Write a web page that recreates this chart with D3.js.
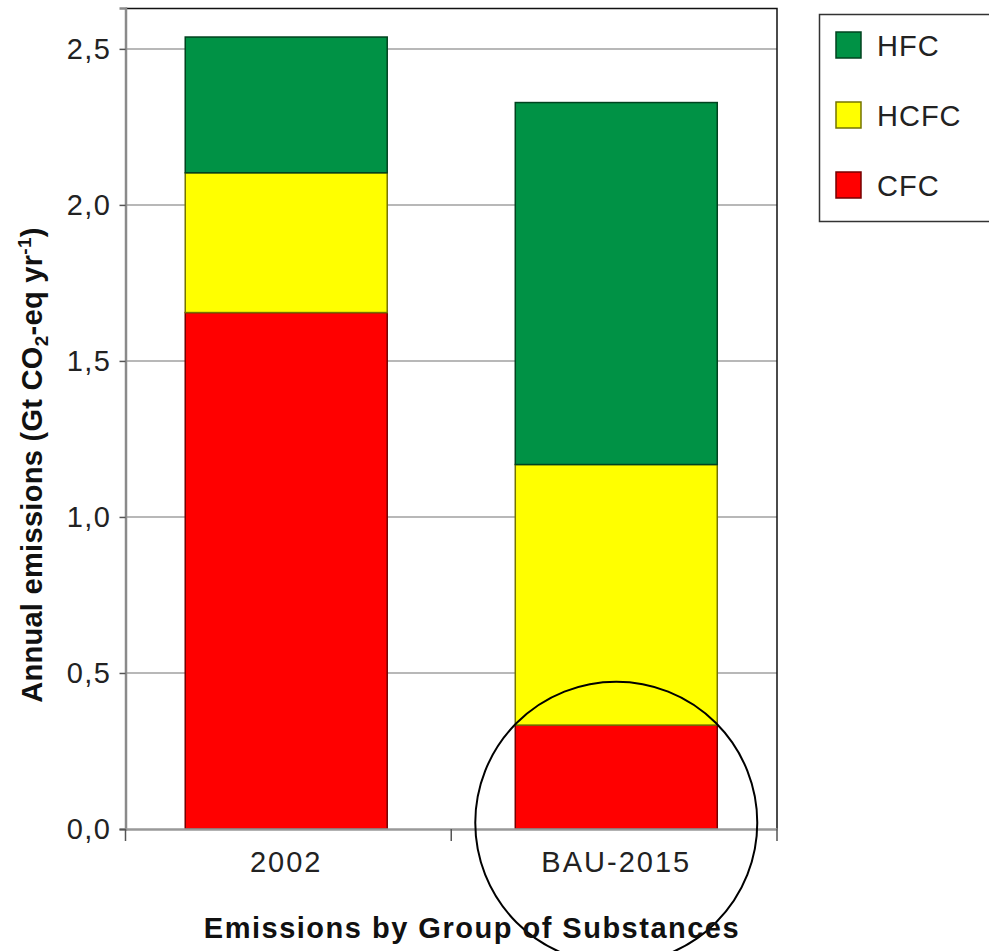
<!DOCTYPE html>
<html>
<head>
<meta charset="utf-8">
<script src="https://cdn.jsdelivr.net/npm/d3@7"></script>
<style>
  body { margin: 0; background: #fff; }
  svg { display: block; font-family: "Liberation Sans", Arial, sans-serif; }
</style>
</head>
<body>
<svg id="chart" width="989" height="951"></svg>
<script>
// data
const categories = ["2002", "BAU-2015"];
const groups = ["CFC", "HCFC", "HFC"];            // stacking order, bottom to top
const cfc  = [1.655, 0.333];
const hcfc = [0.448, 0.835];
const hfc  = [0.435, 1.160];
const yTicks = [0, 0.5, 1.0, 1.5, 2.0, 2.5];
const colors = {CFC: "#ff0000", HCFC: "#ffff00", HFC: "#009245"};
const legendOrder = ["HFC", "HCFC", "CFC"];

const svg = d3.select("#chart");
const margin = {top: 8, right: 212, bottom: 122, left: 125.5},
    width = 989 - margin.left - margin.right,
    height = 951 - margin.top - margin.bottom;

const rows = categories.map(function(c, i) {
  return {cat: c, CFC: cfc[i], HCFC: hcfc[i], HFC: hfc[i]};
});
const series = d3.stack().keys(groups)(rows);

const x = d3.scaleBand()
    .domain(categories)
    .range([0, width])
    .paddingInner(0.388)
    .paddingOuter(0.181);

const y = d3.scaleLinear()
    .domain([0, 2.631])
    .range([height, 0]);

const fmt = function(d) { return d3.format(".1f")(d).replace(".", ","); };

const g = svg.append("g").attr("transform", "translate(" + margin.left + "," + margin.top + ")");

// gridlines
g.append("g").selectAll("line").data(yTicks.filter(function(d) { return d > 0; }))
  .enter().append("line")
    .attr("x1", 0).attr("x2", width)
    .attr("y1", function(d) { return y(d); }).attr("y2", function(d) { return y(d); })
    .attr("stroke", "#a0a0a0").attr("stroke-width", 1.5);

// plot border (top & right)
g.append("path")
    .attr("d", "M0,0.5H" + width + "V" + height)
    .attr("fill", "none").attr("stroke", "#111").attr("stroke-width", 1.5);

// bars
g.append("g").selectAll("g").data(series).enter().append("g")
    .attr("fill", function(s) { return colors[s.key]; })
    .attr("stroke", function(s) { return d3.color(colors[s.key]).darker(2.2); })
    .attr("stroke-width", 1.5)
  .selectAll("rect").data(function(s) { return s; }).enter().append("rect")
    .attr("x", function(d) { return x(d.data.cat); })
    .attr("width", x.bandwidth())
    .attr("y", function(d) { return y(d[1]); })
    .attr("height", function(d) { return y(d[0]) - y(d[1]); });

// y axis
const yAxis = g.append("g")
    .call(d3.axisLeft(y).tickValues(yTicks).tickFormat(fmt).tickSize(6).tickPadding(8));
yAxis.select(".domain").attr("stroke", "#8a8a8a").attr("stroke-width", 2.5);
yAxis.selectAll(".tick line").attr("stroke", "#555").attr("stroke-width", 1.5);
yAxis.selectAll(".tick text").attr("font-size", 29).attr("fill", "#222")
    .attr("letter-spacing", 1.5)
    .attr("font-family", "Liberation Sans, Arial, sans-serif");

// x axis
const xAxis = g.append("g").attr("transform", "translate(0," + height + ")")
    .call(d3.axisBottom(x).tickSize(0).tickPadding(22));
xAxis.select(".domain").attr("stroke", "#999").attr("stroke-width", 2.5);
xAxis.selectAll(".tick text").attr("font-size", 29).attr("fill", "#222")
    .attr("letter-spacing", 2)
    .attr("font-family", "Liberation Sans, Arial, sans-serif");
const boundaries = [0, width / 2, width];
xAxis.append("g").selectAll("line").data(boundaries).enter().append("line")
    .attr("x1", function(d) { return d; }).attr("x2", function(d) { return d; })
    .attr("y1", 0).attr("y2", 12)
    .attr("stroke", "#555").attr("stroke-width", 1.5);

// axis titles
svg.append("text")
    .attr("x", 472).attr("y", 938)
    .attr("text-anchor", "middle")
    .attr("font-size", 29).attr("font-weight", "bold").attr("fill", "#111")
    .attr("letter-spacing", 1.5)
    .text("Emissions by Group of Substances");

const yt = svg.append("text")
    .attr("transform", "translate(42,465) rotate(-90)")
    .attr("text-anchor", "middle")
    .attr("letter-spacing", 0.3)
    .attr("font-size", 29).attr("font-weight", "bold").attr("fill", "#111");
yt.append("tspan").text("Annual emissions (Gt CO");
yt.append("tspan").attr("font-size", 19).attr("dy", 6).text("2");
yt.append("tspan").attr("dy", -6).text("-eq yr");
yt.append("tspan").attr("font-size", 19).attr("dy", -11).text("-1");
yt.append("tspan").attr("dy", 11).text(")");

// legend
const leg = svg.append("g").attr("transform", "translate(819,14)");
leg.append("rect")
    .attr("x", 0.5).attr("y", 0.5).attr("width", 200).attr("height", 207)
    .attr("fill", "#fff").attr("stroke", "#333").attr("stroke-width", 1.5);
const item = leg.selectAll("g.item").data(legendOrder).enter().append("g")
    .attr("class", "item")
    .attr("transform", function(d, i) { return "translate(17," + (31 + i * 70) + ")"; });
item.append("rect")
    .attr("x", 0).attr("y", -13).attr("width", 25).attr("height", 26)
    .attr("fill", function(d) { return colors[d]; })
    .attr("stroke", function(d) { return d3.color(colors[d]).darker(2.2); })
    .attr("stroke-width", 1.5);
item.append("text")
    .attr("x", 41).attr("y", 11)
    .attr("font-size", 29).attr("fill", "#222")
    .attr("letter-spacing", 1)
    .text(function(d) { return d; });

// highlight circle around BAU-2015 CFC
g.append("circle")
    .attr("cx", x("BAU-2015") + x.bandwidth() / 2)
    .attr("cy", y(0.02))
    .attr("r", 141)
    .attr("fill", "none").attr("stroke", "#000").attr("stroke-width", 2);
</script>
</body>
</html>
